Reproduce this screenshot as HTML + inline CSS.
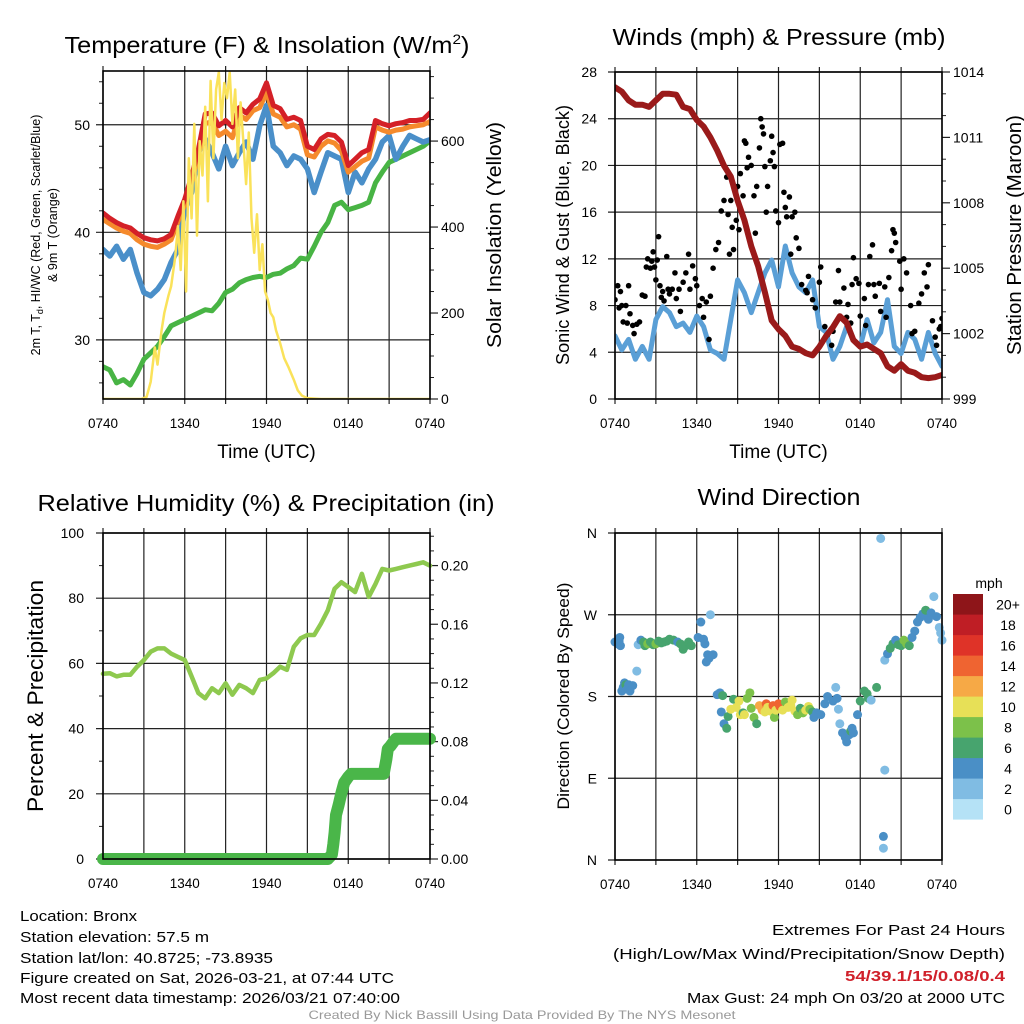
<!DOCTYPE html>
<html><head><meta charset="utf-8"><style>
html,body{margin:0;padding:0;background:#fff;}
svg{display:block;font-family:"Liberation Sans",Arial,sans-serif;}
</style></head><body>
<svg id="fig" xmlns="http://www.w3.org/2000/svg" width="1024" height="1024" viewBox="0 0 1024 1024">
<rect x="0" y="0" width="1024" height="1024" fill="#fff"/>
<g fill="#000">
<text x="267" y="53" font-size="23" text-anchor="middle" textLength="405" lengthAdjust="spacingAndGlyphs">Temperature (F) &amp; Insolation (W/m<tspan font-size="14" dy="-9">2</tspan><tspan dy="9">)</tspan></text>
<text x="779" y="45" font-size="23" text-anchor="middle" textLength="333" lengthAdjust="spacingAndGlyphs">Winds (mph) &amp; Pressure (mb)</text>
<text x="266" y="511" font-size="23" text-anchor="middle" textLength="457" lengthAdjust="spacingAndGlyphs">Relative Humidity (%) &amp; Precipitation (in)</text>
<text x="779" y="505" font-size="23" text-anchor="middle" textLength="163" lengthAdjust="spacingAndGlyphs">Wind Direction</text>
</g>
<g id="plots"></g>
<g font-size="15" fill="#000">
<text x="20" y="921" textLength="117" lengthAdjust="spacingAndGlyphs">Location: Bronx</text>
<text x="20" y="942" textLength="189" lengthAdjust="spacingAndGlyphs">Station elevation: 57.5 m</text>
<text x="20" y="963" textLength="253" lengthAdjust="spacingAndGlyphs">Station lat/lon: 40.8725; -73.8935</text>
<text x="20" y="983" textLength="374" lengthAdjust="spacingAndGlyphs">Figure created on Sat, 2026-03-21, at 07:44 UTC</text>
<text x="20" y="1003" textLength="380" lengthAdjust="spacingAndGlyphs">Most recent data timestamp: 2026/03/21 07:40:00</text>
<text x="1005" y="935" text-anchor="end" textLength="233" lengthAdjust="spacingAndGlyphs">Extremes For Past 24 Hours</text>
<text x="1005" y="959" text-anchor="end" textLength="392" lengthAdjust="spacingAndGlyphs">(High/Low/Max Wind/Precipitation/Snow Depth)</text>
<text x="1005" y="981" text-anchor="end" fill="#d0202a" font-weight="bold" textLength="160" lengthAdjust="spacingAndGlyphs">54/39.1/15/0.08/0.4</text>
<text x="1005" y="1003" text-anchor="end" textLength="318" lengthAdjust="spacingAndGlyphs">Max Gust: 24 mph On 03/20 at 2000 UTC</text>
<text x="522" y="1019" text-anchor="middle" font-size="12" fill="#999" textLength="427" lengthAdjust="spacingAndGlyphs">Created By Nick Bassill Using Data Provided By The NYS Mesonet</text>
</g>
</svg>
<script>
// ---------- data (hours since 0740 UTC) ----------
const hours = [0,0.5,1,1.5,2,2.5,3,3.5,4,4.5,5,5.5,6,6.5,7,7.5,8,8.5,9,9.5,10,10.5,11,11.5,12,12.5,13,13.5,14,14.5,15,15.5,16,16.5,17,17.5,18,18.5,19,19.5,20,20.5,21,21.5,22,22.5,23,23.5,24];
const xTickLabels = ["0740","1340","1940","0140","0740"];
const tempRed = [41.8,41.3,40.9,40.6,40.4,39.9,39.5,39.3,39.2,39.4,39.8,41.5,43.1,45.2,47.7,51.0,51.1,49.9,50.4,49.8,51.6,51.1,51.9,52.4,53.9,51.8,51.5,50.5,50.7,50.4,48.0,47.7,48.7,49.1,49.0,48.4,46.2,46.8,47.4,47.7,50.4,50.1,49.9,50.1,50.2,50.4,50.4,50.5,51.1];
const tempOrange = [41.2,40.8,40.4,40.1,39.9,39.3,38.9,38.7,38.6,38.9,39.3,41.0,42.6,44.7,47.2,50.1,50.3,49.0,49.4,48.8,50.9,50.5,51.3,51.6,53.0,51.0,50.7,49.8,50.0,49.6,47.2,47.0,48.0,48.5,48.3,47.6,45.6,46.1,46.6,46.9,49.8,49.5,49.3,49.5,49.6,49.8,49.9,50.0,50.3];
const tempBlue = [38.4,37.8,38.7,37.5,38.4,36.2,34.4,34.1,34.7,35.6,37.2,38.4,42.1,43.7,47.4,48.7,47.4,45.9,48.0,46.2,47.4,48.4,46.8,49.9,51.8,48.0,47.4,46.2,47.1,46.8,45.9,43.7,45.6,47.4,47.1,46.8,43.7,45.6,44.6,45.9,46.8,48.4,49.0,46.8,48.0,49.0,48.7,48.4,48.6];
const dewGreen = [27.5,27.2,26.0,26.3,25.8,26.9,28.2,28.8,29.4,30.3,31.3,31.6,31.9,32.2,32.5,32.8,32.7,33.4,34.4,34.7,35.3,35.6,35.8,35.9,35.8,36.1,36.2,36.6,36.9,37.6,37.5,38.7,40.0,40.9,42.5,42.8,42.1,42.3,42.5,42.8,44.6,45.6,46.5,46.8,47.1,47.4,47.7,48.0,48.5];
const solarHours = [0,2,2.8,3.2,3.5,3.8,4.0,4.3,4.5,4.8,5.0,5.3,5.5,5.7,5.9,6.1,6.3,6.5,6.7,6.9,7.1,7.3,7.5,7.7,7.9,8.1,8.3,8.5,8.7,8.9,9.1,9.3,9.5,9.7,9.9,10.1,10.3,10.5,10.7,10.9,11.1,11.3,11.5,11.7,11.9,12.1,12.3,12.5,12.7,13.0,13.3,13.6,14.0,14.3,14.6,15.0,16,24];
const solarVals = [0,0,0,5,40,120,80,160,200,240,262,330,402,300,460,250,560,420,640,380,600,520,680,460,740,560,720,760,650,735,700,760,640,720,560,690,600,500,620,420,340,430,300,360,250,230,200,190,160,130,95,75,45,20,8,2,0,0];
const windBlue = [5.4,4.2,5.1,3.4,4.5,3.4,6.8,7.9,7.4,6.2,6.5,5.7,7.1,6.2,4.2,3.9,3.4,6.8,10.2,9.1,7.4,9.1,10.8,11.9,9.6,13.1,10.8,9.6,9.1,10.2,6.2,5.7,3.4,4.5,6.2,5.1,4.5,6.8,4.8,5.7,8.5,4.5,3.9,5.7,5.1,3.4,5.7,3.9,2.8];
const pressure = [1013.3,1013.1,1012.7,1012.5,1012.5,1012.4,1012.7,1013.0,1013.0,1012.96,1012.4,1012.3,1011.8,1011.5,1011.0,1010.4,1009.7,1009.2,1008.1,1007.2,1006.0,1005.1,1003.9,1002.6,1002.2,1001.9,1001.4,1001.3,1001.1,1001.0,1001.4,1001.9,1002.3,1002.8,1002.5,1001.7,1001.4,1001.5,1001.3,1001.1,1000.5,1000.3,1000.6,1000.3,1000.2,1000.0,999.96,1000.0,1000.1];
const gustHours = [0.0,0.2,0.3,0.4,0.5,0.6,0.8,0.9,1.0,1.1,1.3,1.4,1.6,1.8,2.0,2.2,2.3,2.4,2.6,2.7,2.8,2.9,3.0,3.1,3.2,3.3,3.4,3.5,3.6,3.8,3.9,4.0,4.2,4.4,4.5,4.7,4.8,5.0,5.2,5.4,5.5,5.7,5.9,6.0,6.2,6.4,6.5,6.7,6.9,7.0,7.2,7.4,7.6,7.8,8.0,8.2,8.3,8.4,8.5,8.6,8.7,8.8,8.9,9.0,9.1,9.2,9.4,9.5,9.6,9.7,9.8,10.0,10.2,10.3,10.4,10.6,10.7,10.8,10.9,11.0,11.1,11.2,11.4,11.5,11.6,11.7,11.8,12.0,12.1,12.3,12.4,12.5,12.6,12.8,12.9,13.0,13.2,13.3,13.5,13.7,14.0,14.1,14.2,14.5,14.7,15.0,15.1,15.4,15.6,15.9,16.0,16.2,16.4,16.5,16.8,17.0,17.1,17.3,17.4,17.5,17.7,17.9,18.0,18.3,18.4,18.6,18.7,18.9,19.0,19.1,19.4,19.5,19.8,19.9,20.1,20.3,20.4,20.5,20.6,20.9,21.0,21.2,21.4,21.7,21.8,22.0,22.3,22.5,22.7,22.9,23.0,23.3,23.5,23.6,23.8,23.9,24.0];
const gustVals = [8.5,9.7,7.8,9.2,8.0,6.6,8.0,6.5,9.7,7.3,6.3,5.6,6.4,6.6,8.9,8.8,11.3,12.0,11.2,11.8,12.6,11.3,10.2,11.9,13.9,9.7,8.7,9.2,8.4,12.2,9.4,9.0,9.4,10.8,8.6,9.4,7.5,10.0,10.8,12.4,9.4,11.4,10.3,9.7,8.0,8.6,7.0,8.3,5.1,8.8,11.2,12.8,13.4,16.1,17.0,19.0,15.8,12.4,17.0,14.7,12.8,17.8,15.3,18.2,14.5,19.3,17.4,22.1,21.9,19.8,20.7,20.0,17.4,14.2,18.2,21.5,24.0,23.3,22.7,19.9,16.0,18.2,20.4,22.5,21.1,19.9,16.1,15.1,21.8,21.9,17.7,16.4,15.6,17.3,12.4,15.6,16.0,13.8,12.9,9.8,9.3,9.1,10.5,8.5,7.8,10.0,11.3,6.2,5.5,4.6,5.8,8.3,11.0,8.3,9.5,7.0,8.1,6.5,9.8,12.1,10.3,9.9,7.1,8.6,6.3,9.8,12.2,13.2,9.8,8.8,9.9,7.5,9.6,7.0,10.4,12.7,14.5,14.2,13.4,11.8,9.4,12.0,10.8,8.0,5.6,5.8,8.2,9.0,10.8,9.6,11.5,6.7,5.3,4.6,6.0,6.2,6.9];
const rhVals = [56.8,57.0,56.0,56.5,56.5,59.0,61.0,63.6,64.6,64.6,63.0,62.0,61.0,56.0,50.9,49.3,52.4,50.9,53.9,50.4,53.4,52.4,50.9,54.9,55.4,57.0,59.0,58.0,65.1,67.7,68.7,68.7,72.2,76.3,82.9,84.9,83.4,81.9,87.5,80.4,84.4,89.0,88.5,89.0,89.5,90.0,90.5,91.0,90.0];
const precipHours = [0,2,4,6,8,10,12,14,16,16.5,16.8,16.9,17.0,17.1,17.3,17.5,17.7,18.0,18.2,19,20,20.6,20.8,20.9,21.1,21.5,22,23,24];
const precipVals = [0,0,0,0,0,0,0,0,0,0,0.003,0.01,0.018,0.03,0.037,0.045,0.052,0.056,0.058,0.058,0.058,0.058,0.068,0.075,0.077,0.082,0.082,0.082,0.082];
const dirHours = [0.0,0.2,0.3,0.4,0.35,0.5,0.6,0.7,0.8,0.9,1.0,1.1,1.3,1.7,1.9,2.1,2.2,2.4,2.6,2.8,3.0,3.2,3.4,3.6,3.8,4.0,4.3,4.6,4.8,5.0,5.2,5.4,5.6,6.1,6.3,6.5,6.6,6.8,6.9,6.7,7.0,7.2,1.6,7.5,7.7,7.8,7.9,8.0,8.2,8.3,8.5,8.7,8.9,9.1,9.2,9.4,9.5,9.7,9.9,10.0,10.2,10.4,10.6,10.8,11.0,11.1,11.2,11.4,11.6,11.7,11.8,12.0,12.1,12.3,12.5,12.7,12.9,13.0,13.2,13.4,13.6,13.8,14.0,14.2,14.3,14.5,14.6,14.8,15.1,15.4,15.6,16.0,16.2,16.3,16.4,16.5,16.7,16.9,17.0,17.2,17.3,17.5,17.4,17.8,18.0,18.3,18.5,18.6,18.8,19.2,19.5,19.7,19.7,19.8,19.8,20.0,20.2,20.4,20.6,20.8,21.0,21.2,21.4,21.6,21.8,22.0,22.2,22.4,22.6,22.8,23.0,23.2,23.4,23.6,23.8,23.9,24.0];
const dirDeg = [240,238,241,236,245,186,190,195,193,188,193,186,192,237,242,240,236,238,240,237,238,241,239,240,241,243,242,240,238,232,236,240,236,245,262,243,238,226,222,218,270,226,208,182,184,163,181,150,145,158,166,177,168,175,160,162,160,178,184,167,157,150,170,165,163,172,168,164,170,157,165,172,169,165,174,168,170,176,164,160,167,162,165,169,166,163,157,162,160,172,180,175,190,178,166,150,140,135,130,138,142,140,145,160,175,186,183,178,176,190,354,26,13,99,220,227,233,238,242,237,236,242,238,236,245,252,262,267,271,275,265,272,290,268,256,250,242,264,265];
const dirSpeed = [4,4,4,4,4,4,4,5,6,4,5,4,4,3,5,6,7,8,7,6,8,6,7,6,7,6,6,4,6,6,7,6,7,4,4,4,4,4,4,4,2,4,2,4,4,4,6,4,6,6,10,6,10,10,10,6,10,8,8,8,8,6,12,12,10,14,10,10,15,8,10,14,15,10,8,10,10,10,10,8,6,8,10,10,8,6,4,4,4,4,4,4,2,4,2,2,4,4,4,4,6,4,4,4,6,6,6,6,2,6,2,4,2,2,2,4,6,6,4,6,6,8,8,6,4,4,4,4,4,6,4,4,2,4,2,2,2,4,2];
const speedBinColors = ["#b5e2f6","#80bce3","#4a8fc6","#47a46e","#7cc14a","#e7e057","#f6a946","#ef6431","#df3328","#bf1e25","#8e1519"];
const speedBinLabels = ["0","2","4","6","8","10","12","14","16","18","20+"];

// ---------- helpers ----------
const NS = "http://www.w3.org/2000/svg";
const root = document.getElementById("plots");
function el(tag, attrs, parent) {
  const e = document.createElementNS(NS, tag);
  for (const k in attrs) e.setAttribute(k, attrs[k]);
  (parent || root).appendChild(e);
  return e;
}
function txt(s, attrs, parent) { const t = el("text", attrs, parent); t.textContent = s; return t; }
function lin(d0, d1, r0, r1) { return v => r0 + (v - d0) / (d1 - d0) * (r1 - r0); }
function pathD(xs, ys, fx, fy) { return xs.map((v, i) => (i ? "L" : "M") + fx(v).toFixed(1) + " " + fy(ys[i]).toFixed(1)).join(""); }

function frame(g, P, name) {
  const fx = lin(0, 24, P.x0, P.x1);
  // vertical grid every 3h
  for (let h = 0; h <= 24; h += 3) {
    const l = el("line", {x1: fx(h), x2: fx(h), y1: P.top - 5, y2: P.bot + 5, stroke: "#222", "stroke-width": 1.2}, g);
    
    
  }
  xTickLabels.forEach((s, i) => {
    const t = txt(s, {x: fx(i * 6), y: P.bot + 29, "font-size": 14, "text-anchor": "middle", textLength: 30, lengthAdjust: "spacingAndGlyphs"}, g);
    
    
  });
  const tl = txt("Time (UTC)", {x: (P.x0 + P.x1) / 2, y: P.bot + 59, "font-size": 19, "text-anchor": "middle"}, g);
  
  
  if (!P.showTime) tl.remove();
  return fx;
}
function hgrid(g, P, fy, vals, labels, name, lx) {
  vals.forEach((v, i) => {
    const y = fy(v);
    const l = el("line", {x1: P.x0 - 7, x2: P.x1, y1: y, y2: y, stroke: "#222", "stroke-width": 1.2}, g);
    
    
    const t = txt(labels[i], {x: lx, y: y + 5, "font-size": 14, "text-anchor": "end"}, g);
    
    
  });
}
function rightTicks(g, P, fy, vals, labels, minor, name) {
  minor.forEach(v => { const l = el("line", {x1: P.x1, x2: P.x1 + 4, y1: fy(v), y2: fy(v), stroke: "#222", "stroke-width": 1}, g);
    
     });
  vals.forEach((v, i) => {
    const l = el("line", {x1: P.x1, x2: P.x1 + 8, y1: fy(v), y2: fy(v), stroke: "#222", "stroke-width": 1.2}, g);
    
    
    const t = txt(labels[i], {x: P.x1 + 11, y: fy(v) + 5, "font-size": 14}, g);
    
    
  });
}
function border(g, P, name) {
  const r = el("rect", {x: P.x0, y: P.top, width: P.x1 - P.x0, height: P.bot - P.top, fill: "none", stroke: "#000", "stroke-width": 1.6}, g);
  
  
}
function vlabel(g, s, x, y, size, len, name) {
  const t = txt(s, {x: x, y: y, "font-size": size, "text-anchor": "middle", transform: "rotate(-90 " + x + " " + y + ")", textLength: len, lengthAdjust: "spacingAndGlyphs"}, g);
  
  
  return t;
}

// ---------- Panel 1: temperature ----------
(function () {
  const P = {x0: 103, x1: 430, top: 71, bot: 399, showTime: true};
  const g = el("g", {});
  
  
  const fx = frame(g, P, "temp");
  const fy = lin(24.5, 55, P.bot, P.top);
  const fs = lin(0, 763, P.bot, P.top);
  hgrid(g, P, fy, [30, 40, 50], ["30", "40", "50"], "temp", 90);
  [26, 28, 32, 34, 36, 38, 42, 44, 46, 48, 52, 54].forEach(v => { const l = el("line", {x1: P.x0 - 4, x2: P.x0, y1: fy(v), y2: fy(v), stroke: "#222"}, g);
    
     });
  rightTicks(g, P, fs, [0, 200, 400, 600], ["0", "200", "400", "600"], [50, 100, 150, 250, 300, 350, 450, 500, 550, 650, 700, 750], "solar");
  const clip = el("clipPath", {id: "c1"}, g); el("rect", {x: P.x0, y: P.top, width: P.x1 - P.x0, height: P.bot - P.top}, clip);
  const lg = el("g", {"clip-path": "url(#c1)", fill: "none", "stroke-linejoin": "round", "stroke-linecap": "round"}, g);
  let p;
  p = el("path", {d: pathD(hours, dewGreen, fx, fy), stroke: "#48b444", "stroke-width": 5}, lg);
   
  p = el("path", {d: pathD(hours, tempBlue, fx, fy), stroke: "#4a8fc9", "stroke-width": 5.5}, lg);
   
  p = el("path", {d: pathD(hours, tempOrange, fx, fy), stroke: "#f58a2c", "stroke-width": 5}, lg);
   
  p = el("path", {d: pathD(hours, tempRed, fx, fy), stroke: "#d42027", "stroke-width": 5}, lg);
   
  p = el("path", {d: pathD(solarHours, solarVals, fx, fs), stroke: "#fae25a", "stroke-width": 2.5}, lg);
   
  border(g, P, "temp");
  const t1 = txt("", {x: 40, y: 235, "font-size": 12.5, "text-anchor": "middle", transform: "rotate(-90 40 235)"}, g);
  t1.innerHTML = '2m T, T<tspan font-size="9" dy="3">d</tspan><tspan dy="-3">, HI/WC (Red, Green, Scarlet/Blue)</tspan>';
  
  
  vlabel(g, "& 9m T (Orange)", 57, 235, 12.5, 94, "temp-y-axis-title-2");
  vlabel(g, "Solar Insolation (Yellow)", 501, 235, 20, 226, "solar-y-axis-title");
})();

// ---------- Panel 2: winds ----------
(function () {
  const P = {x0: 615, x1: 942, top: 72, bot: 399, showTime: true};
  const g = el("g", {});
  
  
  const fx = frame(g, P, "wind");
  const fy = lin(0, 28, P.bot, P.top);
  const fp = lin(999, 1014, P.bot, P.top);
  hgrid(g, P, fy, [0, 4, 8, 12, 16, 20, 24, 28], ["0", "4", "8", "12", "16", "20", "24", "28"], "wind", 597);
  rightTicks(g, P, fp, [999, 1002, 1005, 1008, 1011, 1014], ["999", "1002", "1005", "1008", "1011", "1014"], [1000, 1001, 1003, 1004, 1006, 1007, 1009, 1010, 1012, 1013], "pressure");
  const clip = el("clipPath", {id: "c2"}, g); el("rect", {x: P.x0, y: P.top, width: P.x1 - P.x0, height: P.bot - P.top}, clip);
  const lg = el("g", {"clip-path": "url(#c2)", fill: "none", "stroke-linejoin": "round", "stroke-linecap": "round"}, g);
  let p = el("path", {d: pathD(hours, windBlue, fx, fy), stroke: "#5a9fd6", "stroke-width": 5}, lg);
   
  gustHours.forEach((h, i) => {
    const c = el("circle", {cx: fx(h), cy: fy(gustVals[i]), r: 2.8, fill: "#000"}, lg);
    
    
  });
  p = el("path", {d: pathD(hours, pressure, fx, fp), stroke: "#9a1a1a", "stroke-width": 6}, lg);
   
  border(g, P, "wind");
  vlabel(g, "Sonic Wind & Gust (Blue, Black)", 569, 235, 18, 260, "wind-y-axis-title");
  vlabel(g, "Station Pressure (Maroon)", 1021, 235, 20, 240, "pressure-y-axis-title");
})();

// ---------- Panel 3: RH & precip ----------
(function () {
  const P = {x0: 103, x1: 430, top: 533, bot: 859, showTime: false};
  const g = el("g", {});
  
  
  const fx = frame(g, P, "rh");
  const fy = lin(0, 100, P.bot, P.top);
  const fr = lin(0, 0.2222, P.bot, P.top);
  hgrid(g, P, fy, [0, 20, 40, 60, 80, 100], ["0", "20", "40", "60", "80", "100"], "rh", 84);
  [10, 30, 50, 70, 90].forEach(v => { const l = el("line", {x1: P.x0 - 4, x2: P.x0, y1: fy(v), y2: fy(v), stroke: "#222"}, g);
    
     });
  rightTicks(g, P, fr, [0, 0.04, 0.08, 0.12, 0.16, 0.20], ["0.00", "0.04", "0.08", "0.12", "0.16", "0.20"], [0.01, 0.02, 0.03, 0.05, 0.06, 0.07, 0.09, 0.10, 0.11, 0.13, 0.14, 0.15, 0.17, 0.18, 0.19, 0.21, 0.22], "precip");
  const lg = el("g", {fill: "none", "stroke-linejoin": "round", "stroke-linecap": "round"}, g);
  let p = el("path", {d: pathD(hours, rhVals, fx, fy), stroke: "#8ec94f", "stroke-width": 4.5}, lg);
   
  p = el("path", {d: pathD(precipHours, precipVals, fx, fr), stroke: "#4ab649", "stroke-width": 12}, lg);
   
  border(g, P, "rh");
  vlabel(g, "Percent & Precipitation", 43, 696, 22, 232, "rh-y-axis-title");
})();

// ---------- Panel 4: wind direction ----------
(function () {
  const P = {x0: 615, x1: 942, top: 533, bot: 860, showTime: false};
  const g = el("g", {});
  
  
  const fx = frame(g, P, "dir");
  const fy = lin(0, 360, P.bot, P.top);
  hgrid(g, P, fy, [0, 90, 180, 270, 360], ["N", "E", "S", "W", "N"], "dir", 597);
  dirHours.forEach((h, i) => {
    const c = el("circle", {cx: fx(h), cy: fy(dirDeg[i]), r: 4.5, fill: speedBinColors[Math.min(10, Math.floor(dirSpeed[i] / 2))]}, g);
    
    
  });
  border(g, P, "dir");
  vlabel(g, "Direction (Colored By Speed)", 569, 696, 17, 227, "dir-y-axis-title");
  const lg = el("g", {}, g);
  
  
  const t = txt("mph", {x: 989, y: 588, "font-size": 14, "text-anchor": "middle"}, lg);
  
  
  speedBinColors.forEach((c, i) => {
    const y = 594 + (10 - i) * 20.5;
    const r = el("rect", {x: 953, y: y, width: 30, height: 20.6, fill: c}, lg);
    
    
    const l = txt(speedBinLabels[i], {x: 1008, y: y + 15.5, "font-size": 14, "text-anchor": "middle"}, lg);
    
    
  });
})();
</script>
</body></html>
